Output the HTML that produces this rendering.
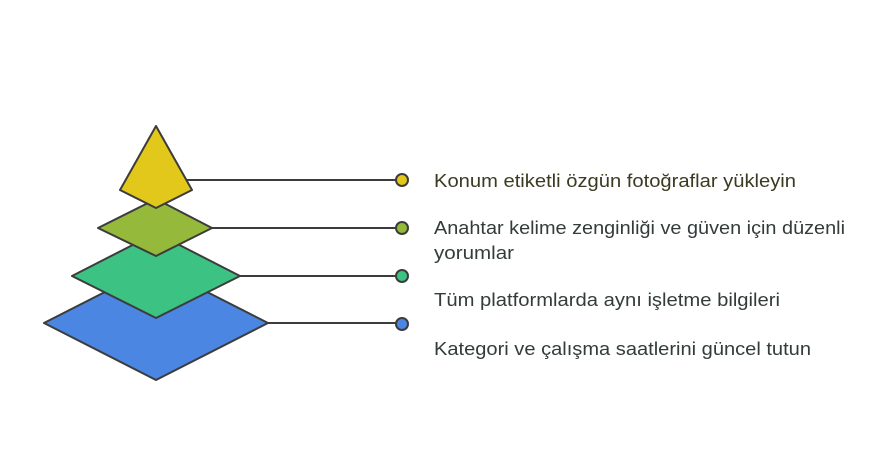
<!DOCTYPE html>
<html><head><meta charset="utf-8"><style>
html,body{margin:0;padding:0;background:#fff;}
svg{display:block;}
text{font-family:"Liberation Sans",sans-serif;font-size:18.5px;}
</style></head><body>
<svg width="888" height="456" viewBox="0 0 888 456">
<g stroke="#3c3c3c" stroke-width="2" stroke-linejoin="round">
<line x1="260" y1="323" x2="396" y2="323"/>
<line x1="232" y1="276" x2="396" y2="276"/>
<line x1="205" y1="228" x2="396" y2="228"/>
<line x1="186" y1="180" x2="396" y2="180"/>
<polygon points="156,266 268,323 156,380 44,323" fill="#4a86e2"/>
<polygon points="156,233 240,276 156,318 72,276" fill="#3cc383"/>
<polygon points="156,199 212,228 156,256 98,228" fill="#95b93a"/>
<polygon points="156,126 192,190 156,208 120,190" fill="#e2c81a"/>
<circle cx="402" cy="180" r="6" fill="#e2c81a"/>
<circle cx="402" cy="228" r="6" fill="#95b93a"/>
<circle cx="402" cy="276" r="6" fill="#3cc383"/>
<circle cx="402" cy="324" r="6" fill="#4a86e2"/>
</g>
<text x="434" y="187" fill="#3b3b22" textLength="362" lengthAdjust="spacingAndGlyphs">Konum etiketli özgün fotoğraflar yükleyin</text>
<text x="434" y="234" fill="#333b3b" textLength="411" lengthAdjust="spacingAndGlyphs">Anahtar kelime zenginliği ve güven için düzenli</text>
<text x="434" y="259" fill="#333b3b" textLength="80" lengthAdjust="spacingAndGlyphs">yorumlar</text>
<text x="434" y="306" fill="#333b3b" textLength="346" lengthAdjust="spacingAndGlyphs">Tüm platformlarda aynı işletme bilgileri</text>
<text x="434" y="355" fill="#333b3b" textLength="377" lengthAdjust="spacingAndGlyphs">Kategori ve çalışma saatlerini güncel tutun</text>
</svg>
</body></html>
